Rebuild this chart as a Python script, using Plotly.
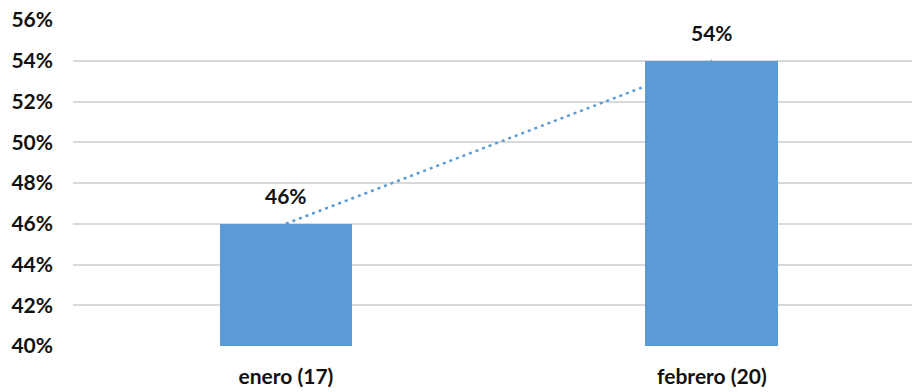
import numpy as np
import plotly.graph_objects as go

categories = ["enero (17)", "febrero (20)"]
values = [46, 54]
value_labels = ["46%", "54%"]
y_ticks = [40, 42, 44, 46, 48, 50, 52, 54, 56]
y_tick_labels = [f"{v}%" for v in y_ticks]

BLUE = "#5B9BD5"
FONT = "Lato"
TXT = "#111111"

# linear trend through the series
xi = np.arange(len(values))
coef = np.polyfit(xi, values, 1)
trend = list(np.polyval(coef, xi))

fig = go.Figure()
fig.add_trace(go.Scatter(
    x=categories, y=trend, mode="lines",
    line=dict(color=BLUE, width=2.5, dash="3px,4px"),
    xaxis="x", yaxis="y", hoverinfo="skip", showlegend=False,
))
fig.add_trace(go.Bar(
    x=categories, y=values, marker=dict(color=BLUE, line=dict(width=0)),
    width=0.312,
    xaxis="x2", yaxis="y2", showlegend=False,
))

for c, v, t in zip(categories, values, value_labels):
    fig.add_annotation(
        x=c, y=v, xref="x2", yref="y2", text=f"<b>{t}</b>", showarrow=False,
        yanchor="bottom", yshift=14,
        font=dict(family=FONT, size=21, color=TXT),
    )

xr = [-0.5, 1.47]
yr = [40, 56]
fig.update_layout(
    width=912, height=392,
    margin=dict(l=73, r=0, t=20, b=46),
    plot_bgcolor="white", paper_bgcolor="white",
    font=dict(family=FONT, size=21, color=TXT),
    bargap=0,
    xaxis=dict(range=xr, showgrid=False, showticklabels=True, showline=False,
               zeroline=False, ticks="", ticklabelstandoff=16,
               tickfont=dict(family=FONT, size=21, color=TXT, weight="bold")),
    yaxis=dict(range=yr, tickvals=y_ticks, ticktext=y_tick_labels,
               showgrid=True, gridcolor="#D9D9D9", gridwidth=1.5,
               zeroline=False, showline=False, ticks="", ticklabelstandoff=19,
               tickfont=dict(family=FONT, size=21, color=TXT, weight="bold")),
    xaxis2=dict(range=xr, overlaying="x", visible=False),
    yaxis2=dict(range=yr, overlaying="y", visible=False),
)

fig.write_html("out.html")
